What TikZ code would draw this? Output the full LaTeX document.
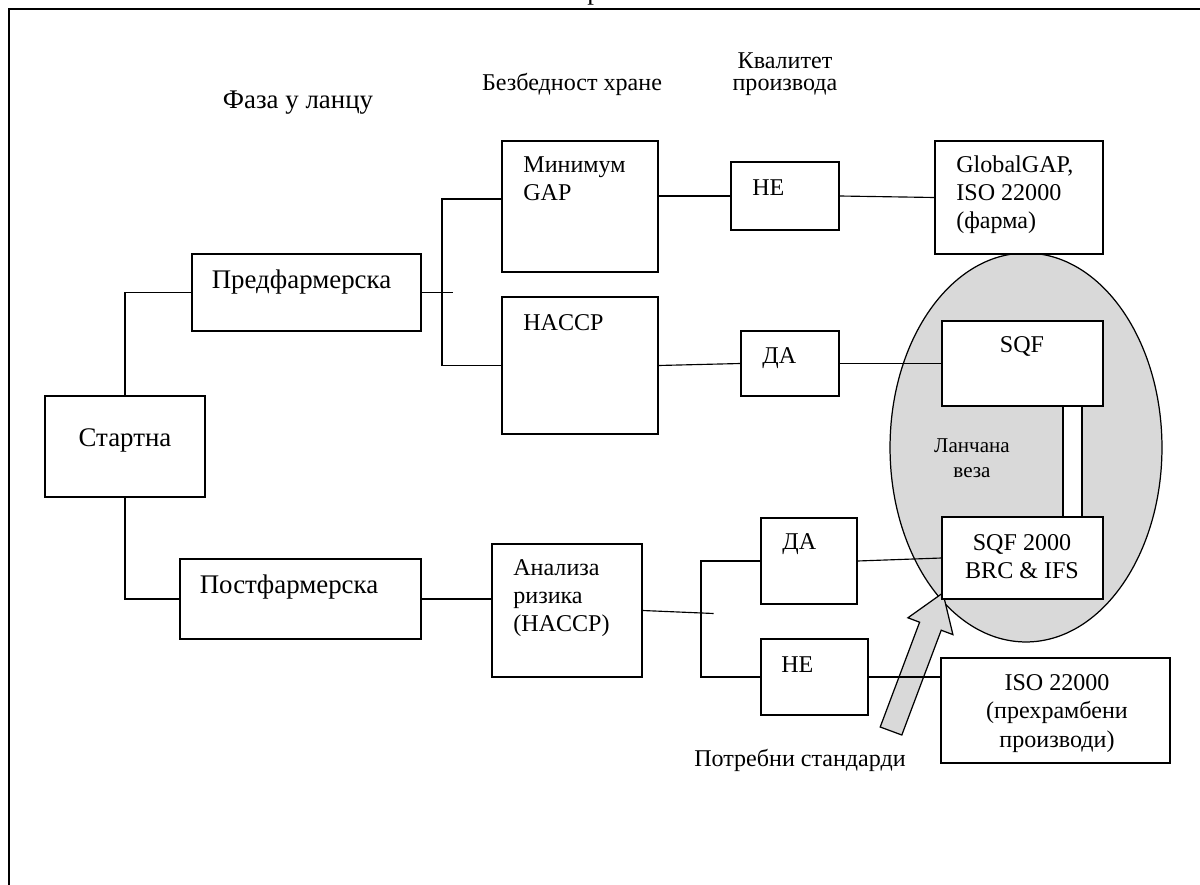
\documentclass[tikz,border=0pt]{standalone}
\usepackage{fontspec}
\setmainfont{Liberation Serif}
\usetikzlibrary{positioning, calc}

\begin{document}
\begin{tikzpicture}[x=0.02cm, y=-0.02cm,
    every node/.style={font=\fontsize{13.7}{16}\selectfont},
    box/.style={draw=black, fill=white, line width=0.7pt, inner sep=0pt},
    txt/.style={inner sep=0pt, align=left},
    bigtxt/.style={txt, font=\fontsize{15.3}{16}\selectfont},
    link/.style={line width=0.65pt, black}]
  \useasboundingbox (0,0) rectangle (1200,885);

  % frame
  \draw[line width=1.4pt] (9,885) -- (9,9) -- (1200,9);
  \node[bigtxt, anchor=base west] (cut) at (587,-0.5) {р};

  % headings
  \node[bigtxt] (phase) at (298,103) {Фаза у ланцу};
  \node[txt] (safety) at (572,84) {Безбедност хране};
  \node[txt, align=center, font=\fontsize{13.7}{12.8}\selectfont] (quality) at (785,74) {Квалитет\\производа};

  % chain ellipse
  \draw[line width=0.7pt, fill=gray!30] (1026,447.5) ellipse [x radius=2.72cm, y radius=3.89cm];

  % block arrow
  \draw[line width=0.7pt, fill=gray!30] (880.2,727) -- (919.6,622.2) -- (907.9,617.8)
      -- (942.9,592.9) -- (952.9,634.6) -- (941.2,630.2) -- (901.8,735) -- cycle;
  \node[txt] (need) at (800,760) {Потребни стандарди};

  % boxes
  \node[box, minimum width=3.2cm, minimum height=2.02cm] (start) at (125,446.5) {};
  \node[box, minimum width=4.58cm, minimum height=1.54cm] (pre) at (306.5,292.5) {};
  \node[box, minimum width=4.82cm, minimum height=1.6cm] (post) at (300.5,599) {};
  \node[box, minimum width=3.12cm, minimum height=2.62cm] (mingap) at (580,206.5) {};
  \node[box, minimum width=3.12cm, minimum height=2.74cm] (haccp) at (580,365.5) {};
  \node[box, minimum width=2.16cm, minimum height=1.36cm] (ne1) at (785,196) {};
  \node[box, minimum width=1.96cm, minimum height=1.3cm] (da1) at (790,363.5) {};
  \node[box, minimum width=3.36cm, minimum height=2.26cm] (glob) at (1019,197.5) {};
  \node[box, minimum width=3.22cm, minimum height=1.7cm] (sqf) at (1022.5,363.5) {};
  \node[box, minimum width=3.22cm, minimum height=1.64cm] (sqf2000) at (1022.5,558) {};
  \node[box, minimum width=3cm, minimum height=2.66cm] (analiza) at (567,610.5) {};
  \node[box, minimum width=1.92cm, minimum height=1.72cm] (da2) at (809,561) {};
  \node[box, minimum width=2.14cm, minimum height=1.52cm] (ne2) at (814.5,677) {};
  \node[box, minimum width=4.58cm, minimum height=2.1cm] (iso) at (1055.5,710.5) {};

  % texts in boxes
  \node[bigtxt] (startT) at (125,440) {Стартна};
  \node[bigtxt] (preT) at (301.5,282) {Предфармерска};
  \node[bigtxt] (postT) at (289,587) {Постфармерска};
  \node[txt, anchor=west] (mingapT) at (523,179) {Минимум\\GAP};
  \node[txt, anchor=west] (haccpT) at (523,323) {HACCP};
  \node[txt, anchor=west] (ne1T) at (752,188) {НЕ};
  \node[txt, anchor=west] (da1T) at (762,358) {ДА};
  \node[txt, anchor=west] (globT) at (956,194.5) {GlobalGAP,\\ISO 22000\\(фарма)};
  \node[txt] (sqfT) at (1022,346) {SQF};
  \node[txt, align=center] (sqf2000T) at (1022,557) {SQF 2000\\BRC \& IFS};
  \node[txt, anchor=west] (analizaT) at (513,598) {Анализа\\ризика\\(HACCP)};
  \node[txt, anchor=west] (da2T) at (782,544) {ДА};
  \node[txt, anchor=west] (ne2T) at (781,665) {НЕ};
  \node[txt, align=center] (isoT) at (1057,713.5) {ISO 22000\\(прехрамбени\\производи)};
  \node[txt, align=center, font=\fontsize{12}{14}\selectfont] (chain) at (972,458) {Ланчана\\веза};

  % connectors
  \draw[link] (start.north) |- (pre.west);
  \draw[link] (start.south) |- (post.west);
  \coordinate (preJ) at (442,292.5);
  \draw[link] (pre.east) -- ++(31,0);
  \draw[link] ([yshift=0.15cm]mingap.west) -| (preJ) |- (haccp.west);
  \draw[link] (mingap.east |- ne1.west) -- (ne1.west);
  \draw[link] (haccp.east) -- (da1.west);
  \draw[link] (ne1.east) -- (glob.west);
  \draw[link] (da1.east) -- (sqf.west);
  \draw[link] (post.east) -- (analiza.west |- post.east);
  \coordinate (postJ) at (701,613);
  \draw[link] (analiza.east) -- ++(71,3);
  \draw[link] (da2.west) -| (postJ) |- (ne2.west);
  \draw[link] (da2.east) -- (sqf2000.west);
  \draw[link] (ne2.east) -- (iso.west |- ne2.east);
  \draw[link, fill=white] ([xshift=0.81cm]sqf.south) rectangle ([xshift=1.19cm]sqf2000.north);
\end{tikzpicture}
\end{document}
